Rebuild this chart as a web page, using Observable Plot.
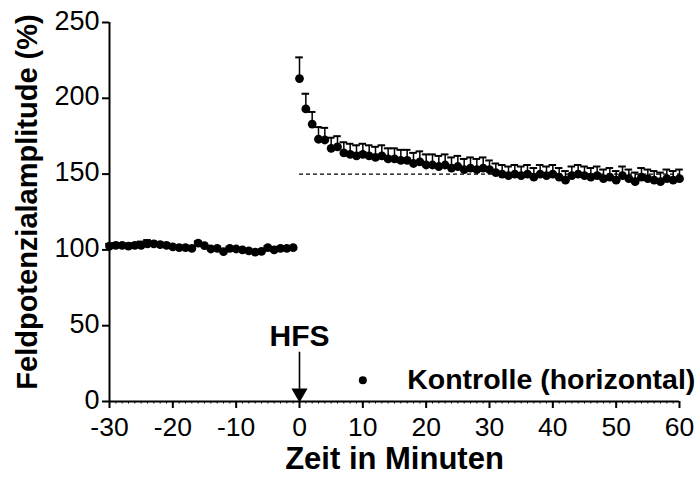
<!DOCTYPE html>
<html>
<head>
<meta charset="utf-8">
<script src="https://cdn.jsdelivr.net/npm/d3@7"></script>
<script src="https://cdn.jsdelivr.net/npm/@observablehq/plot@0.6"></script>
<style>
  html, body { margin: 0; padding: 0; background: #fff; }
  svg { display: block; }
</style>
</head>
<body>
<div id="chart"></div>
<script>
// Time (minutes) of each recording
const baseTimes = d3.range(-30, 0);          // -30 .. -1
const postTimes = d3.range(0, 61);           // 0 .. 60

// Mean field potential amplitude (%) — baseline
const baseMeans = [102.5, 103, 103, 102.5, 103, 103, 104, 104, 103.5, 103, 102, 101.5, 101.5,
  101, 104.5, 102.8, 100.6, 101, 98.8, 101, 100.6, 100, 99.4, 98.5, 99, 101.5, 100, 101, 101, 101.5];
const baseSem = [1.5, 1.5, 1.5, 1.5, 1.5, 2.5, 2.5, 1.5, 1.5, 1.5, 1.2, 1.2, 1.2,
  1.2, 1.2, 1.2, 1, 1, 1, 1, 1, 1, 1, 1, 1, 1, 1, 1, 1, 1];

// Mean field potential amplitude (%) — after HFS
const postMeans = [213, 193, 183, 173, 172.5, 167, 168, 164, 163, 162,
  163, 162, 161, 162, 160, 160, 159, 159, 157, 158,
  156, 156, 155, 156, 154, 155, 153, 154, 153, 154,
  153, 151, 150, 149, 150, 149, 150, 148, 150, 149,
  150, 148, 146, 149, 150, 149, 148, 149, 147, 148,
  146, 149, 147, 145, 148, 147, 146, 145, 147, 146, 147];
const postSem = [14, 10, 8, 8, 8, 7, 7, 7, 7, 7,
  7, 7, 7, 7, 7, 7, 7, 7, 7, 7,
  7, 7, 7, 7, 7, 7, 7, 7, 7, 7,
  6, 6, 6, 6, 6, 6, 6, 6, 6, 6,
  6, 6, 6, 6, 6, 6, 6, 6, 6, 6,
  6, 6, 6, 6, 6, 6, 6, 6, 6, 6, 6];

// Reference level and axis ticks
const refLevel = [150];
const refSpan = [0, 60];
const xTicks = [-30, -20, -10, 0, 10, 20, 30, 40, 50, 60];
const xMinorTicks = d3.range(-30, 61);
const yTicks = [0, 50, 100, 150, 200, 250];

// Annotations
const hfsLabel = ["HFS"];
const hfsTime = [0];
const legendLabel = ["Kontrolle (horizontal)"];

const data = [
  ...baseTimes.map((t, i) => ({t, m: baseMeans[i], e: baseSem[i]})),
  ...postTimes.map((t, i) => ({t, m: postMeans[i], e: postSem[i]}))
];

const FONT = "'Liberation Sans', Arial, Helvetica, sans-serif";

const chart = Plot.plot({
  width: 698,
  height: 483,
  marginLeft: 109,
  marginRight: 19,
  marginTop: 22,
  marginBottom: 82,
  style: {fontFamily: FONT, background: "#fff", color: "#000", overflow: "visible"},
  x: {domain: [-30, 60]},
  y: {domain: [0, 250]},
  marks: [
    // dashed reference line
    Plot.ruleY(refLevel, {x1: refSpan[0], x2: refSpan[1], y: d => d, stroke: "#000", strokeWidth: 1.3, strokeDasharray: "4,3"}),
    // minor x ticks
    Plot.axisX({ticks: xMinorTicks, tickSize: 2.5, tickFormat: () => "", strokeWidth: 1, label: null}),
    // axes
    Plot.axisX({ticks: xTicks, tickSize: 7, tickPadding: 9, tickFormat: d => d, fontSize: 26.5, strokeWidth: 2, label: null}),
    Plot.axisY({ticks: yTicks, tickSize: 7, tickFormat: () => "", strokeWidth: 2, label: null}),
    Plot.axisY({ticks: yTicks, tickSize: 0, tickPadding: 10, fontSize: 27, label: null, dy: -1.5}),
    Plot.ruleX([-30], {y1: 0, y2: 250, stroke: "#000", strokeWidth: 2}),
    Plot.ruleY([0], {x1: -30, x2: 60, stroke: "#000", strokeWidth: 2}),
    // error bars (upper only) with caps
    Plot.ruleX(data, {x: "t", y1: "m", y2: d => d.m + d.e, stroke: "#000", strokeWidth: 1.5}),
    Plot.ruleY(data, {y: d => d.m + d.e, x1: d => d.t - 0.6, x2: d => d.t + 0.6, stroke: "#000", strokeWidth: 2}),
    // points
    Plot.dot(data, {x: "t", y: "m", r: 4.4, fill: "#000", stroke: "none"}),
    // HFS annotation
    Plot.text(hfsLabel, {x: hfsTime[0], y: 44, text: d => d, fontSize: 30, fontWeight: "bold", textAnchor: "middle", lineAnchor: "bottom", dy: 11}),
    Plot.ruleX(hfsTime, {x: d => d, y1: 32.5, y2: 8, stroke: "#000", strokeWidth: 1.6}),
    Plot.dot(hfsTime, {x: d => d, y: 5.5, symbol: "triangle", r: 6, rotate: 180, fill: "#000", stroke: "none"}),
    // legend
    Plot.dot(legendLabel, {x: 10, y: 14, r: 4, fill: "#000", stroke: "none"}),
    Plot.text(legendLabel, {x: 17, y: 14, text: d => d, fontSize: 28.5, fontWeight: "bold", textAnchor: "start"}),
    // axis titles
    Plot.text(["Zeit in Minuten"], {frameAnchor: "bottom", text: d => d, dy: 67, fontSize: 31, fontWeight: "bold", textAnchor: "middle"}),
    Plot.text(["Feldpotenzialamplitude (%)"], {frameAnchor: "left", text: d => d, rotate: -90, dx: -82, dy: -10, fontSize: 29, fontWeight: "bold", textAnchor: "middle"})
  ]
});

document.getElementById("chart").appendChild(chart);
</script>
</body>
</html>
